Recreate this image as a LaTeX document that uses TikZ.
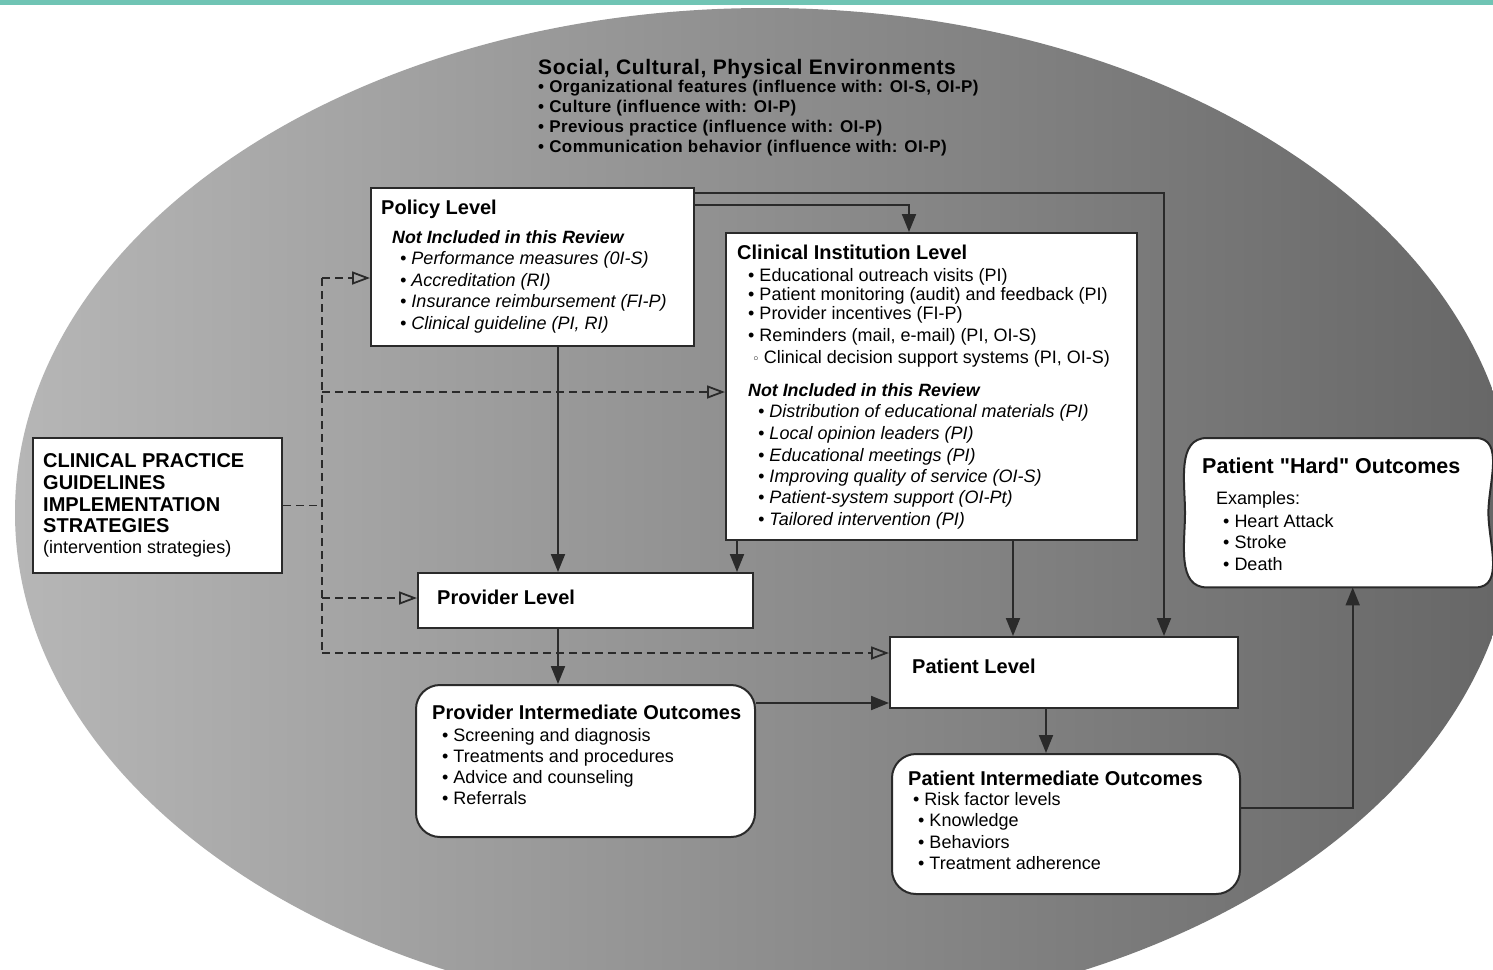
\documentclass[tikz,border=0pt]{standalone}
\usepackage{fontspec}
\setmainfont{Liberation Sans}[Ligatures=TeXOff]
\newfontfamily\dejavu{DejaVu Sans}
\usetikzlibrary{arrows.meta}
\definecolor{tealbar}{RGB}{112,196,180}
\definecolor{ln}{RGB}{42,42,42}
\definecolor{elL}{RGB}{182,182,182}
\definecolor{elR}{RGB}{102,102,102}
\newcommand\fsz[1]{\fontsize{#1}{#1}\selectfont}
\begin{document}
\begin{tikzpicture}[x=1pt,y=-1pt,
  box/.style={draw=ln, line width=2pt, fill=white, inner sep=0pt, anchor=north west},
  rbox/.style={box, rounded corners=24pt},
  txt/.style={anchor=base west, inner sep=0pt, text=black},
  ttl/.style={txt, font=\fsz{20}\bfseries},
  itm/.style={txt, font=\fsz{18}},
  iti/.style={txt, font=\fsz{18}\itshape},
  nir/.style={txt, font=\fsz{17.8}\bfseries\itshape},
  envb/.style={txt, font=\fsz{17}\bfseries\addfontfeatures{LetterSpace=2.5}},
  conn/.style={draw=ln, line width=2pt, -{Triangle[length=18pt,width=14pt]}},
  dsh/.style={draw=ln, line width=1.8pt, dash pattern=on 8pt off 5pt},
  oarr/.style={dsh, -{Triangle[open,length=18pt,width=13pt]}},
]
\useasboundingbox (0,0) rectangle (1493,969);
\clip (0,0) rectangle (1493,969);
\fill[white] (0,0) rectangle (1493,969);
\shade[left color=elL, right color=elR] (765,513) ellipse [x radius=750pt, y radius=505pt];
\fill[tealbar] (0,0) rectangle (1493,5);

% boxes
\node[box, minimum width=249pt, minimum height=135pt] (cpg) at (32,437) {};
\node[box, minimum width=323pt, minimum height=158pt] (policy) at (370,187) {};
\node[box, minimum width=411pt, minimum height=307pt] (clin) at (725,232) {};
\node[box, minimum width=335pt, minimum height=55pt] (prov) at (417,572) {};
\node[rbox, minimum width=339pt, minimum height=152pt] (provio) at (415,684) {};
\node[box, minimum width=348pt, minimum height=71pt] (pat) at (889,636) {};
\node[rbox, minimum width=348pt, minimum height=140pt] (patio) at (891,753) {};
\node[inner sep=0pt, minimum width=303pt, minimum height=149pt, anchor=north west] (hard) at (1185,438) {};
\filldraw[draw=ln, line width=2pt, fill=white]
  ([xshift=22pt]hard.north west) -- ([xshift=-13pt]hard.north east)
  to[out=0,in=90] (hard.east)
  to[out=-90,in=0] ([xshift=-13pt]hard.south east)
  -- ([xshift=22pt]hard.south west)
  to[out=180,in=-90] (hard.west)
  to[out=90,in=180] cycle;

% solid connectors
\draw[conn] ([yshift=-6pt]policy.north east) -| ([xshift=-75pt]pat.north east);
\draw[conn] ([yshift=-18pt]policy.north east) -| ([xshift=-22.5pt]clin.north);
\coordinate (a1) at ([xshift=25.5pt]policy.south);
\draw[conn] (a1) -- (a1 |- prov.north);
\coordinate (a2) at ([xshift=12pt]clin.south west);
\draw[conn] (a2) -- (a2 |- prov.north);
\coordinate (a3) at ([xshift=288pt]clin.south west);
\draw[conn] (a3) -- (a3 |- pat.north);
\coordinate (a4) at ([xshift=-27.5pt]prov.south);
\draw[conn] (a4) -- (a4 |- provio.north);
\coordinate (a5) at ([yshift=-19pt]provio.north east);
\draw[conn] (a5) -- (a5 -| pat.west);
\coordinate (a6) at ([xshift=157pt]pat.south west);
\draw[conn] (a6) -- (a6 |- patio.north);
\coordinate (a7) at ([yshift=-55pt]patio.north east);
\coordinate (a8) at ([xshift=16pt]hard.south);
\draw[conn] (a7) -| (a8);

% dashed connectors
\coordinate (jn) at ([xshift=39pt]cpg.east);
\coordinate (d1) at ([yshift=-11pt]policy.west);
\coordinate (d2) at ([yshift=-5.5pt]clin.west);
\coordinate (d3) at ([yshift=2.5pt]prov.west);
\coordinate (d4) at ([yshift=19.5pt]pat.west);
\draw[dsh] (cpg.east) -- (jn);
\draw[dsh] (d1 -| jn) -- (d4 -| jn);
\draw[oarr] (d1 -| jn) -- (d1);
\draw[oarr] (d2 -| jn) -- (d2);
\draw[oarr] (d3 -| jn) -- (d3);
\draw[oarr] (d4 -| jn) -- (d4);

% environment text
\node[txt, font=\fsz{21}\bfseries\addfontfeatures{LetterSpace=3}] (env) at (538,74) {Social, Cultural, Physical Environments};
\node[envb] (env1) at (538,92) {• Organizational features (influence with: OI-S, OI-P)};
\node[envb] (env2) at (538,112) {• Culture (influence with: OI-P)};
\node[envb] (env3) at (538,132) {• Previous practice (influence with: OI-P)};
\node[envb] (env4) at (538,152) {• Communication behavior (influence with: OI-P)};

% policy text
\node[ttl] (polT) at (381,214) {Policy Level};
\node[nir] (polN) at (392,243) {Not Included in this Review};
\node[iti] (pol1) at (400,264) {• Performance measures (0I-S)};
\node[iti] (pol2) at (400,286) {• Accreditation (RI)};
\node[iti] (pol3) at (400,307) {• Insurance reimbursement (FI-P)};
\node[iti] (pol4) at (400,329) {• Clinical guideline (PI, RI)};

% clinical institution text
\node[ttl] (cliT) at (737,259) {Clinical Institution Level};
\node[itm] (cli1) at (748,281) {• Educational outreach visits (PI)};
\node[itm] (cli2) at (748,300) {• Patient monitoring (audit) and feedback (PI)};
\node[itm] (cli3) at (748,319) {• Provider incentives (FI-P)};
\node[itm] (cli4) at (748,341) {• Reminders (mail, e-mail) (PI, OI-S)};
\node[itm] (cli5) at (752,363) {{\dejavu\fsz{13}◦}\hspace{4pt}Clinical decision support systems (PI, OI-S)};
\node[nir] (cliN) at (748,396) {Not Included in this Review};
\node[iti] (cli6) at (758,417) {• Distribution of educational materials (PI)};
\node[iti] (cli7) at (758,439) {• Local opinion leaders (PI)};
\node[iti] (cli8) at (758,461) {• Educational meetings (PI)};
\node[iti] (cli9) at (758,482) {• Improving quality of service (OI-S)};
\node[iti] (cli10) at (758,503) {• Patient-system support (OI-Pt)};
\node[iti] (cli11) at (758,525) {• Tailored intervention (PI)};

% provider text
\node[ttl] (prvT) at (437,604) {Provider Level};
\node[ttl] (pioT) at (432,719) {Provider Intermediate Outcomes};
\node[itm] (pio1) at (442,741) {• Screening and diagnosis};
\node[itm] (pio2) at (442,762) {• Treatments and procedures};
\node[itm] (pio3) at (442,783) {• Advice and counseling};
\node[itm] (pio4) at (442,804) {• Referrals};

% patient text
\node[ttl] (patT) at (912,673) {Patient Level};
\node[ttl] (paiT) at (908,785) {Patient Intermediate Outcomes};
\node[itm] (pai1) at (913,805) {• Risk factor levels};
\node[itm] (pai2) at (918,826) {• Knowledge};
\node[itm] (pai3) at (918,848) {• Behaviors};
\node[itm] (pai4) at (918,869) {• Treatment adherence};

% hard outcomes text
\node[txt, font=\fsz{21.5}\bfseries] (hrdT) at (1202,473) {Patient "Hard" Outcomes};
\node[itm] (hrdE) at (1216,504) {Examples:};
\node[itm] (hrd1) at (1223,527) {• Heart Attack};
\node[itm] (hrd2) at (1223,548) {• Stroke};
\node[itm] (hrd3) at (1223,570) {• Death};

% strategies text
\node[ttl] (cpg1) at (43,467) {CLINICAL PRACTICE};
\node[ttl] (cpg2) at (43,489) {GUIDELINES};
\node[ttl] (cpg3) at (43,511) {IMPLEMENTATION};
\node[ttl] (cpg4) at (43,532) {STRATEGIES};
\node[itm] (cpg5) at (43,553) {(intervention strategies)};
\end{tikzpicture}
\end{document}
